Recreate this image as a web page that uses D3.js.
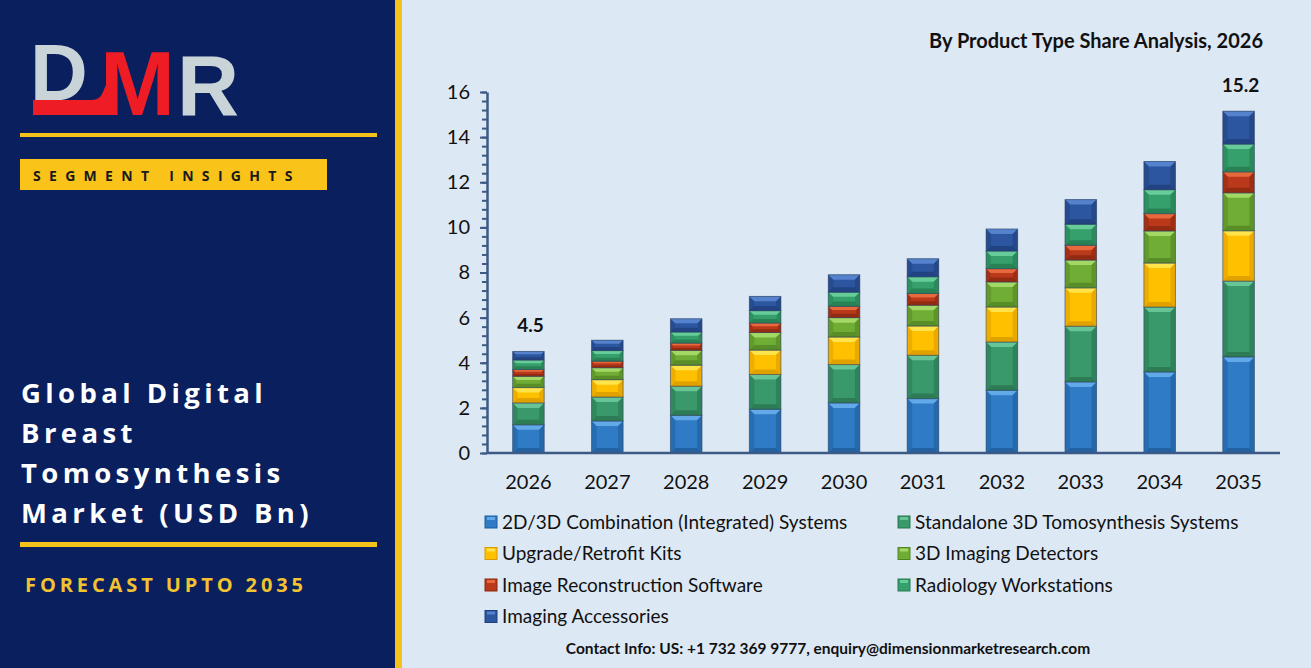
<!DOCTYPE html>
<html>
<head>
<meta charset="utf-8">
<script src="https://d3js.org/d3.v7.min.js"></script>
<style>
  body { margin: 0; padding: 0; background: #dde8f5; }
  svg { display: block; }
  .axis path, .axis line { stroke: #3d5a85; }
  .axis text { font-family: Lato, "Open Sans", sans-serif; fill: #111; }
</style>
</head>
<body>
<div id="chart"></div>
<script>
// data (USD Bn)
const years = ["2026", "2027", "2028", "2029", "2030", "2031", "2032", "2033", "2034", "2035"];
const seriesNames = [
  "2D/3D Combination (Integrated) Systems",
  "Standalone 3D Tomosynthesis Systems",
  "Upgrade/Retrofit Kits",
  "3D Imaging Detectors",
  "Image Reconstruction Software",
  "Radiology Workstations",
  "Imaging Accessories"
];
const combination = [1.25, 1.42, 1.67, 1.94, 2.22, 2.41, 2.78, 3.15, 3.59, 4.26];
const standalone  = [0.97, 1.06, 1.29, 1.54, 1.70, 1.92, 2.14, 2.47, 2.88, 3.36];
const upgradeKits = [0.68, 0.77, 0.93, 1.08, 1.22, 1.30, 1.55, 1.70, 1.95, 2.23];
const detectors   = [0.50, 0.53, 0.66, 0.78, 0.86, 0.92, 1.11, 1.23, 1.42, 1.68];
const software    = [0.30, 0.29, 0.32, 0.42, 0.50, 0.52, 0.59, 0.66, 0.77, 0.93];
const workstations= [0.42, 0.47, 0.49, 0.55, 0.63, 0.74, 0.78, 0.93, 1.06, 1.23];
const accessories = [0.38, 0.46, 0.59, 0.63, 0.77, 0.80, 0.98, 1.09, 1.25, 1.46];
const yTicks = [0, 2, 4, 6, 8, 10, 12, 14, 16];
const endLabels = [{ year: "2026", text: "4.5" }, { year: "2035", text: "15.2" }];

const colors = ["#2f7bc6", "#39996b", "#ffc000", "#70ad34", "#b9391a", "#35a06c", "#2d56a0"];
const lights = ["#62a9ea", "#67c496", "#ffe34a", "#a3d866", "#e8693c", "#66cc98", "#5582cc"];
const darks  = ["#1f5d9a", "#2a7450", "#d99a00", "#528424", "#8a2810", "#267a51", "#1f3f7a"];

const seriesValues = [combination, standalone, upgradeKits, detectors, software, workstations, accessories];
const table = years.map((yr, i) => {
  const row = { year: yr };
  seriesNames.forEach((n, k) => row[n] = seriesValues[k][i]);
  return row;
});
const stacked = d3.stack().keys(seriesNames)(table);

const W = 1311, H = 668;
const svg = d3.select("#chart").append("svg").attr("width", W).attr("height", H);

// backgrounds
svg.append("rect").attr("width", W).attr("height", H).attr("fill", "#dde8f5");
svg.append("rect").attr("width", 395).attr("height", H).attr("fill", "#0a1f5e");
svg.append("rect").attr("x", 395).attr("width", 7).attr("height", H).attr("fill", "#f5c21b");

// ---- left panel ----
const left = svg.append("g");
// logo
left.append("path") // red swoosh under the D
  .attr("d", "M33,100 L92,100 Q100,100 103,92 L108,80 L108,115 L33,115 Z")
  .attr("fill", "#ee1c25");
left.append("text").attr("x", 30).attr("y", 100)
  .style("font-family", "Liberation Sans, Arial, sans-serif").style("font-weight", "bold")
  .style("font-size", "80px").attr("fill", "#c9d4d8").text("D");
left.append("text").attr("x", 100).attr("y", 115)
  .style("font-family", "Liberation Sans, Arial, sans-serif").style("font-weight", "bold")
  .style("font-size", "90px").attr("fill", "#ee1c25").text("M");
left.append("text").attr("x", 177).attr("y", 115)
  .style("font-family", "Liberation Sans, Arial, sans-serif").style("font-weight", "bold")
  .style("font-size", "86px").attr("fill", "#c9d4d8").text("R");

left.append("rect").attr("x", 20).attr("y", 133).attr("width", 357).attr("height", 4).attr("fill", "#f5c21b");
left.append("rect").attr("x", 20).attr("y", 159).attr("width", 307).attr("height", 31).attr("fill", "#f9c31a");
left.append("text").attr("x", 33).attr("y", 181)
  .style("font-family", "Open Sans, sans-serif").style("font-weight", "bold")
  .style("font-size", "14px").style("letter-spacing", "8.3px").attr("fill", "#1a1a1a")
  .text("SEGMENT INSIGHTS");

const titleLines = ["Global Digital", "Breast", "Tomosynthesis", "Market (USD Bn)"];
left.selectAll(".ttl").data(titleLines).enter().append("text")
  .attr("x", 21).attr("y", (d, i) => 403 + i * 40)
  .style("font-family", "Open Sans, sans-serif").style("font-weight", "bold")
  .style("font-size", "27.5px").style("letter-spacing", "4.4px").attr("fill", "#ffffff")
  .text(d => d);
left.append("rect").attr("x", 20).attr("y", 542).attr("width", 357).attr("height", 5).attr("fill", "#f5c21b");
left.append("text").attr("x", 25).attr("y", 592)
  .style("font-family", "Open Sans, sans-serif").style("font-weight", "bold")
  .style("font-size", "20px").style("letter-spacing", "3.9px").attr("fill", "#f2c230")
  .text("FORECAST UPTO 2035");

// ---- chart ----
const x = d3.scaleBand().domain(years).range([487, 1280]).paddingInner(0.6).paddingOuter(0.325);
const y = d3.scaleLinear().domain([0, 16]).range([453, 92]);

svg.append("text").attr("x", 1263).attr("y", 48).attr("text-anchor", "end")
  .style("font-family", "Lato, sans-serif").style("font-weight", "bold").style("font-size", "20px")
  .attr("fill", "#111").text("By Product Type Share Analysis, 2026");

// minor ticks
svg.append("g").attr("class", "axis").attr("transform", "translate(487,0)")
  .call(d3.axisLeft(y).tickValues(d3.range(0, 16.01, 0.4)).tickSize(5).tickFormat(""))
  .call(g => g.select(".domain").remove())
  .selectAll("line").attr("stroke-width", 2);
// major axis
svg.append("g").attr("class", "axis").attr("transform", "translate(487,0)")
  .call(d3.axisLeft(y).tickValues(yTicks).tickSize(7).tickPadding(10).tickSizeOuter(0))
  .call(g => g.select(".domain").attr("stroke-width", 2.5))
  .call(g => g.selectAll("line").attr("stroke-width", 2))
  .selectAll("text").style("font-size", "20px");

// bevelled stacked bars
const bw = x.bandwidth();
stacked.forEach((layer, k) => {
  const g = svg.append("g");
  layer.forEach(d => {
    const x0 = x(d.data.year), y0 = y(d[1]), h = y(d[0]) - y(d[1]);
    const b = Math.min(5, h / 3);
    g.append("rect").attr("x", x0).attr("y", y0).attr("width", bw).attr("height", h)
      .attr("fill", colors[k]);
    g.append("polygon") // top bevel
      .attr("points", [[x0, y0], [x0 + bw, y0], [x0 + bw - b, y0 + b], [x0 + b, y0 + b]].join(" "))
      .attr("fill", lights[k]);
    g.append("polygon") // bottom bevel
      .attr("points", [[x0, y0 + h], [x0 + bw, y0 + h], [x0 + bw - b, y0 + h - b], [x0 + b, y0 + h - b]].join(" "))
      .attr("fill", darks[k]).attr("opacity", 0.8);
    g.append("polygon") // left bevel
      .attr("points", [[x0, y0], [x0 + b, y0 + b], [x0 + b, y0 + h - b], [x0, y0 + h]].join(" "))
      .attr("fill", darks[k]).attr("opacity", 0.45);
    g.append("polygon") // right bevel
      .attr("points", [[x0 + bw, y0], [x0 + bw - b, y0 + b], [x0 + bw - b, y0 + h - b], [x0 + bw, y0 + h]].join(" "))
      .attr("fill", darks[k]).attr("opacity", 0.6);
    g.append("rect").attr("x", x0).attr("y", y0).attr("width", bw).attr("height", h)
      .attr("fill", "none").attr("stroke", "#2b3f5e").attr("stroke-opacity", 0.55).attr("stroke-width", 1);
  });
});

// x axis
svg.append("g").attr("class", "axis").attr("transform", "translate(0,453)")
  .call(d3.axisBottom(x).tickSize(0).tickPadding(22))
  .call(g => g.select(".domain").attr("stroke-width", 2.5).attr("d", "M487,0H1280"))
  .selectAll("text").style("font-size", "20px");

// total labels
const total = i => d3.sum(seriesValues, s => s[i]);
svg.selectAll(".tot").data(endLabels).enter().append("text")
  .attr("x", d => x(d.year) + bw / 2 + 2)
  .attr("y", d => y(total(years.indexOf(d.year))) - 19)
  .attr("text-anchor", "middle")
  .style("font-family", "Lato, sans-serif").style("font-weight", "bold").style("font-size", "19px")
  .attr("fill", "#111").text(d => d.text);

// legend
const legend = svg.append("g");
seriesNames.forEach((n, k) => {
  const lx = k % 2 === 0 ? 485 : 898;
  const ly = 522 + Math.floor(k / 2) * 31.5;
  legend.append("rect").attr("x", lx).attr("y", ly - 6).attr("width", 12).attr("height", 12)
    .attr("fill", colors[k]).attr("stroke", darks[k]).attr("stroke-width", 1);
  legend.append("rect").attr("x", lx + 2).attr("y", ly - 5).attr("width", 8).attr("height", 3)
    .attr("fill", lights[k]);
  legend.append("text").attr("x", lx + 17).attr("y", ly + 6.5)
    .style("font-family", "Lato, sans-serif").style("font-size", "19px").attr("fill", "#111")
    .text(n);
});

svg.append("text").attr("x", 828).attr("y", 654).attr("text-anchor", "middle")
  .style("font-family", "Lato, sans-serif").style("font-weight", "bold").style("font-size", "15.5px")
  .attr("fill", "#111")
  .text("Contact Info: US: +1 732 369 9777, enquiry@dimensionmarketresearch.com");
</script>
</body>
</html>
